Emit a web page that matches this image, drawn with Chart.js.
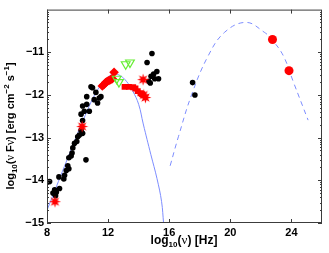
<!DOCTYPE html>
<html>
<head>
<meta charset="utf-8">
<script src="https://cdn.jsdelivr.net/npm/chart.js@4.4.1/dist/chart.umd.min.js"></script>
<style>
  html, body { margin: 0; padding: 0; background: #fff; }
  #wrap { width: 329px; height: 253px; }
</style>
</head>
<body>
<div id="wrap"><canvas id="sed" width="329" height="253"></canvas></div>
<script>
// log10(nu) and log10(nu F_nu)
const blackNu = [8.17, 8.39, 8.50, 8.56, 8.61, 8.82, 8.78, 9.10, 9.15, 9.26, 9.36, 9.43, 9.43, 9.58, 9.64, 9.69, 9.80, 9.95, 10.01, 10.12, 10.23, 10.33, 10.55, 10.33, 10.23, 10.44, 10.77, 10.33, 10.60, 10.60, 10.88, 10.98, 11.09, 11.20, 11.31, 11.42, 11.53, 14.55, 14.87, 14.98, 15.19, 14.81, 15.05, 15.30, 14.66, 14.76, 17.53, 17.68];
const blackFlux = [-14.03, -14.30, -14.22, -14.36, -14.28, -14.19, -13.92, -13.97, -13.88, -13.77, -13.66, -13.73, -13.47, -13.43, -13.36, -13.24, -13.13, -13.09, -12.98, -12.94, -12.83, -12.90, -13.52, -12.60, -12.45, -12.38, -12.38, -12.26, -12.22, -12.04, -11.81, -11.83, -12.11, -11.94, -12.19, -12.07, -12.04, -11.24, -11.03, -11.51, -11.45, -11.56, -11.62, -11.62, -11.68, -11.72, -11.71, -12.00];

const starNu = [8.52, 10.30, 14.29, 14.33, 14.44];
const starFlux = [-14.50, -12.74, -11.64, -12.00, -12.06];

const diamondNu = [11.62, 11.72, 11.84, 11.95, 12.06, 12.17, 12.28, 12.39];
const diamondFlux = [-11.79, -11.76, -11.71, -11.68, -11.66, -11.64, -11.62, -11.47];

const squareNu = [13.08, 13.36, 13.64, 13.79, 13.94, 14.12, 14.22];
const squareFlux = [-11.81, -11.81, -11.82, -11.85, -11.91, -11.96, -11.98];

const triNu = [12.56, 12.71, 13.15, 13.43];
const triFlux = [-11.62, -11.70, -11.28, -11.24];

const circleNu = [22.76, 23.84];
const circleFlux = [-10.70, -11.43];

// model curves
const syncNu = [8.0, 8.5, 9.0, 9.5, 10.0, 10.5, 11.0, 11.5, 12.0, 12.4, 12.8, 13.2, 13.6, 14.0, 14.3, 14.8, 15.2, 15.5, 15.63];
const syncFlux = [-14.70, -14.25, -13.80, -13.35, -12.90, -12.48, -12.08, -11.78, -11.58, -11.51, -11.55, -11.68, -11.90, -12.22, -12.68, -13.40, -13.96, -14.50, -15.0];

const icNu = [16.06, 16.6, 17.46, 18.54, 19.63, 21.03, 22.22, 22.72, 23.48, 24.13, 25.09];
const icFlux = [-13.66, -12.98, -12.00, -11.09, -10.53, -10.30, -10.53, -10.70, -11.09, -11.70, -12.59];

const xTicks = [8, 12, 16, 20, 24];
const yTicks = [-15, -14, -13, -12, -11];

const pts = (xs, ys) => xs.map((x, i) => ({ x: x, y: ys[i] }));

// filled red star marker
function makeStar(size) {
	const c = document.createElement('canvas');
	c.width = size; c.height = size;
	const g = c.getContext('2d');
	const r = size / 2, ri = r * 0.42, n = 8;
	g.beginPath();
	for (let i = 0; i < n * 2; i++) {
		const rr = i % 2 ? ri : r - 0.5;
		const a = Math.PI * i / n - Math.PI / 2;
		g.lineTo(r + rr * Math.cos(a), r + rr * Math.sin(a));
	}
	g.closePath();
	g.fillStyle = '#ff0000';
	g.fill();
	return c;
}

const FONT = '"Liberation Sans", Arial, sans-serif';
const SERIF = '"Liberation Serif", "Times New Roman", serif';

// draws text pieces with sub/superscripts, centered on (0,0)
function richText(ctx, parts) {
	const widths = parts.map(p => {
		ctx.font = p.font;
		return ctx.measureText(p.t).width;
	});
	let x = -widths.reduce((a, b) => a + b, 0) / 2;
	parts.forEach((p, i) => {
		ctx.font = p.font;
		ctx.fillText(p.t, x, p.dy || 0);
		x += widths[i];
	});
}

const B11 = 'bold 11px ' + FONT;
const B12 = 'bold 12px ' + FONT;
const B8 = 'bold 8px ' + FONT;
const NU = '12px ' + SERIF;
const NU13 = '13px ' + SERIF;

const framePlugin = {
	id: 'frame',
	afterDraw(chart) {
		const ctx = chart.ctx;
		const a = chart.chartArea;
		const xs = chart.scales.x, ys = chart.scales.y;
		ctx.save();
		ctx.strokeStyle = '#3c3c3c';
		ctx.lineWidth = 1;
		ctx.strokeRect(a.left + 0.5, a.top + 0.5, a.right - a.left - 1, a.bottom - a.top - 1);

		ctx.beginPath();
		xTicks.forEach(v => {
			const px = Math.round(xs.getPixelForValue(v)) + 0.5;
			ctx.moveTo(px, a.bottom); ctx.lineTo(px, a.bottom - 4);
			ctx.moveTo(px, a.top); ctx.lineTo(px, a.top + 4);
		});
		yTicks.forEach(v => {
			const py = Math.round(ys.getPixelForValue(v)) + 0.5;
			ctx.moveTo(a.left, py); ctx.lineTo(a.left + 4, py);
			ctx.moveTo(a.right, py); ctx.lineTo(a.right - 4, py);
			// minor ticks like a log axis
			for (let k = 2; k <= 9; k++) {
				const my = Math.round(ys.getPixelForValue(v + Math.log10(k))) + 0.5;
				ctx.moveTo(a.left, my); ctx.lineTo(a.left + 2, my);
				ctx.moveTo(a.right, my); ctx.lineTo(a.right - 2, my);
			}
		});
		ctx.stroke();

		ctx.fillStyle = '#000';
		ctx.textBaseline = 'alphabetic';
		ctx.textAlign = 'left';

		// x title
		ctx.save();
		ctx.translate(184, 244);
		richText(ctx, [
			{ t: 'log', font: B12 },
			{ t: '10', font: B8, dy: 3 },
			{ t: '(', font: B12 },
			{ t: 'ν', font: NU13 },
			{ t: ') [Hz]', font: B12 }
		]);
		ctx.restore();

		// y title
		ctx.save();
		ctx.translate(14, 126);
		ctx.rotate(-Math.PI / 2);
		richText(ctx, [
			{ t: 'log', font: B11 },
			{ t: '10', font: B8, dy: 3 },
			{ t: '(', font: B11 },
			{ t: 'ν', font: NU },
			{ t: ' F', font: B11 },
			{ t: 'ν', font: NU },
			{ t: ') [erg cm', font: B11 },
			{ t: '\u22122', font: B8, dy: -5 },
			{ t: ' s', font: B11 },
			{ t: '\u22121', font: B8, dy: -5 },
			{ t: ']', font: B11 }
		]);
		ctx.restore();
		ctx.restore();
	}
};

const ctx = document.getElementById('sed').getContext('2d');
const starImg = makeStar(13);

new Chart(ctx, {
	type: 'scatter',
	data: {
		datasets: [
			{
				type: 'line', data: pts(syncNu, syncFlux), order: 10,
				borderColor: '#7d8dff', borderWidth: 1, pointRadius: 0, tension: 0.4, fill: false
			},
			{
				type: 'line', data: pts(icNu, icFlux), order: 10,
				borderColor: '#7d8dff', borderWidth: 1, borderDash: [5, 4], pointRadius: 0, tension: 0.4, fill: false
			},
			{
				data: pts(blackNu, blackFlux), order: 3,
				pointStyle: 'circle', pointRadius: 2.8, backgroundColor: '#000', borderColor: '#000', borderWidth: 0
			},
			{
				data: pts(diamondNu, diamondFlux), order: 2,
				pointStyle: 'rectRot', pointRadius: 4.8, backgroundColor: '#ff0000', borderColor: '#ff0000', borderWidth: 0
			},
			{
				data: pts(squareNu, squareFlux), order: 2,
				pointStyle: 'rect', pointRadius: 4.2, backgroundColor: '#ff0000', borderColor: '#ff0000', borderWidth: 0
			},
			{
				data: pts(starNu, starFlux), order: 1,
				pointStyle: starImg, pointRadius: 6
			},
			{
				data: pts(triNu, triFlux), order: 1,
				pointStyle: 'triangle', pointRotation: 180, pointRadius: 5,
				backgroundColor: 'rgba(0,0,0,0)', borderColor: '#66ee33', borderWidth: 1.2
			},
			{
				data: pts(circleNu, circleFlux), order: 1,
				pointStyle: 'circle', pointRadius: 4.5, backgroundColor: '#ff0000', borderColor: '#ff0000', borderWidth: 0
			}
		]
	},
	options: {
		responsive: false,
		animation: false,
		events: [],
		layout: { padding: { top: 2, right: 3, left: 0, bottom: 0 } },
		plugins: { legend: { display: false }, tooltip: { enabled: false } },
		scales: {
			x: {
				type: 'linear', min: 8, max: 26,
				grid: { display: false, drawTicks: false },
				border: { display: false },
				afterFit: s => { s.height = 30; },
				afterBuildTicks: s => { s.ticks = xTicks.map(v => ({ value: v })); },
				ticks: { padding: 3, color: '#000', font: { family: FONT, size: 11, weight: 'bold' } }
			},
			y: {
				type: 'linear', min: -15, max: -10,
				grid: { display: false, drawTicks: false },
				border: { display: false },
				afterFit: s => { s.width = 47; },
				afterBuildTicks: s => { s.ticks = yTicks.map(v => ({ value: v })); },
				ticks: {
					padding: 3, color: '#000', font: { family: FONT, size: 11, weight: 'bold' },
					callback: v => '\u2212' + Math.abs(v)
				}
			}
		}
	},
	plugins: [framePlugin]
});
</script>
</body>
</html>
